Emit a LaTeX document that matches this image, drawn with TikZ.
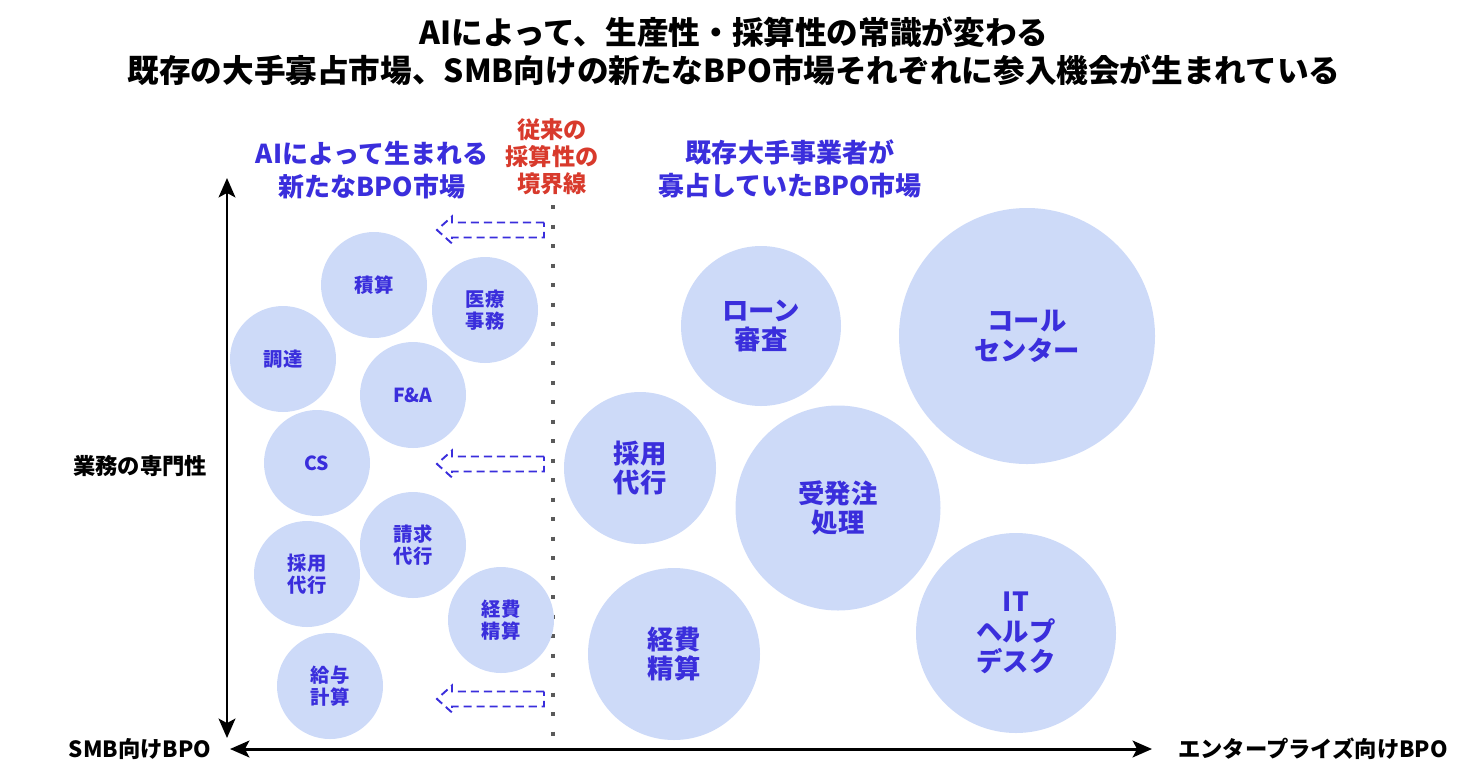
\documentclass[tikz,border=0pt]{standalone}
\usepackage{fontspec}
\setmainfont{Noto Sans CJK JP}
\usetikzlibrary{arrows.meta}
\definecolor{bubblefill}{HTML}{CDDAF8}
\definecolor{markblue}{HTML}{3A2EDC}
\definecolor{borderred}{HTML}{D83A2C}
\definecolor{dotgray}{HTML}{5A5A5A}

\begin{document}
\begin{tikzpicture}[x=0.02cm,y=-0.02cm,
    bubble/.style={circle,fill=bubblefill,text=markblue,inner sep=0pt,minimum size=#1*0.02cm,align=center},
    smalltext/.style={font=\fontsize{11}{12.5}\selectfont\bfseries},
    bigtext/.style={font=\fontsize{15}{17}\selectfont\bfseries},
    axislabel/.style={font=\fontsize{12.7}{14}\selectfont\bfseries},
    axisline/.style={line width=1.7pt,{Stealth[length=11pt,width=9.5pt,inset=2.5pt]}-{Stealth[length=11pt,width=9.5pt,inset=2.5pt]}},
    shiftarrow/.style={draw=markblue,line width=1.1pt,dash pattern=on 4.6pt off 2.8pt}]
    \useasboundingbox (0,0) rectangle (1474,772);

    \node[align=center,font=\fontsize{18}{21.6}\selectfont\bfseries] (title) at (734,51)
        {AIによって、生産性・採算性の常識が変わる\\既存の大手寡占市場、SMB向けの新たなBPO市場それぞれに参入機会が生まれている};

    \node[align=center,text=markblue,font=\fontsize{14.8}{18.8}\selectfont\bfseries] (newmarket) at (372,170)
        {AIによって生まれる\\新たなBPO市場};
    \node[align=center,text=markblue,font=\fontsize{14.8}{18.8}\selectfont\bfseries] (oldmarket) at (790,169)
        {既存大手事業者が\\寡占していたBPO市場};
    \node[align=center,text=borderred,font=\fontsize{13.2}{15.4}\selectfont\bfseries] (borderlabel) at (552,157)
        {従来の\\採算性の\\境界線};

    \coordinate (bordertop) at (553,205);
    \coordinate (borderbot) at (553,745);
    \draw[dotgray,line width=2.3pt,dash pattern=on 2.3pt off 8.8pt] (bordertop) -- (borderbot);

    \foreach \y in {230,464,699}
        \draw[shiftarrow] (544,\y-7.5) -- (452,\y-7.5) -- (452,\y-13.5) -- (437,\y)
            -- (452,\y+13.5) -- (452,\y+7.5) -- (544,\y+7.5) -- cycle;

    \node[bubble=106,smalltext] (sekisan) at (374,285) {積算};
    \node[bubble=106,smalltext] (iryou) at (485,310) {医療\\事務};
    \node[bubble=106,smalltext] (choutatsu) at (283,359) {調達};
    \node[bubble=106,smalltext] (fa) at (413,395) {F\&A};
    \node[bubble=106,smalltext] (cs) at (317,463) {CS};
    \node[bubble=106,smalltext] (seikyu) at (413,545) {請求\\代行};
    \node[bubble=106,smalltext] (saiyousmall) at (307,574) {採用\\代行};
    \node[bubble=106,smalltext] (keihismall) at (501,620) {経費\\精算};
    \node[bubble=106,smalltext] (kyuyo) at (330,686) {給与\\計算};

    \node[bubble=160,bigtext] (loan) at (761,326) {ローン\\審査};
    \node[bubble=256,bigtext] (callcenter) at (1027,336) {コール\\センター};
    \node[bubble=152,bigtext] (saiyoularge) at (640,468) {採用\\代行};
    \node[bubble=205,bigtext] (juhatchu) at (838,508) {受発注\\処理};
    \node[bubble=172,bigtext] (keihilarge) at (674,654) {経費\\精算};
    \node[bubble=200,bigtext] (ithelp) at (1016,633) {IT\\ヘルプ\\デスク};

    \coordinate (ytop) at (227,178);
    \coordinate (ybot) at (227,738);
    \coordinate (xleft) at (230,749);
    \coordinate (xright) at (1152,749);
    \draw[axisline] (ybot) -- (ytop);
    \draw[axisline] (xleft) -- (xright);

    \node[axislabel] (expertise) at (140,466) {業務の専門性};
    \node[axislabel] (smb) at (140,749) {SMB向けBPO};
    \node[axislabel] (enterprise) at (1313,749) {エンタープライズ向けBPO};
\end{tikzpicture}
\end{document}
